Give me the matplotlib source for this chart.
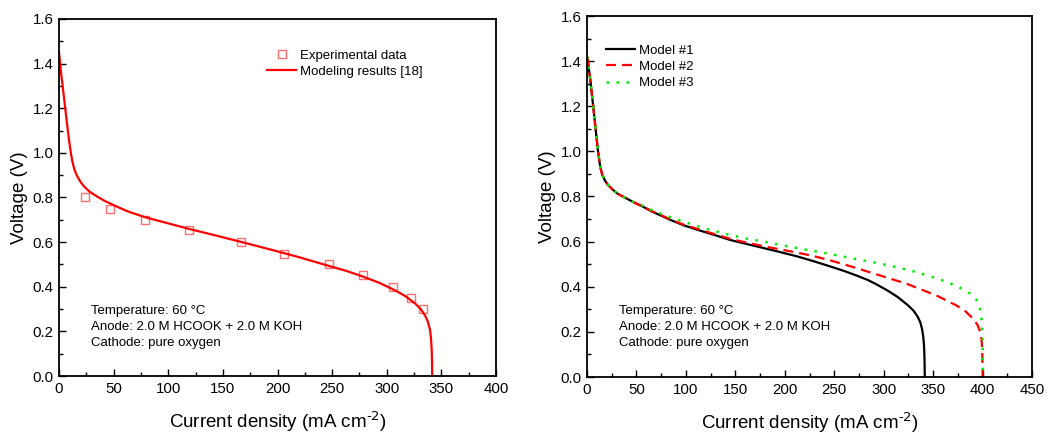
import matplotlib
matplotlib.use("Agg")
import matplotlib.pyplot as plt
from matplotlib.ticker import MultipleLocator, FormatStrFormatter

plt.rcParams['font.family'] = ['Liberation Sans', 'DejaVu Sans']
plt.rcParams['mathtext.default'] = 'regular'

# ---- Left panel data ----
exp_x = [24, 47, 79, 119, 167, 206, 247, 278, 306, 322, 333]
exp_y = [0.80, 0.75, 0.70, 0.655, 0.60, 0.548, 0.50, 0.453, 0.40, 0.35, 0.30]

mod_x = [0, 1, 2, 3.3, 5, 6.4, 8, 9.4, 11, 12.4, 14, 15.5, 17, 20, 23, 28, 35,
         42, 50, 58, 65, 80, 100, 120, 145, 169, 195, 208, 220, 248, 263, 278,
         293, 308, 317, 326, 331, 335, 337.5, 339.5, 340.5, 341.2, 341.5, 341.6]
mod_y = [1.45, 1.40, 1.355, 1.30, 1.23, 1.17, 1.105, 1.05, 0.995, 0.958, 0.928,
         0.908, 0.892, 0.868, 0.849, 0.826, 0.804, 0.784, 0.766, 0.748, 0.734,
         0.71, 0.684, 0.658, 0.628, 0.598, 0.565, 0.548, 0.532, 0.492, 0.471,
         0.446, 0.418, 0.383, 0.358, 0.325, 0.30, 0.272, 0.245, 0.21, 0.17, 0.11,
         0.05, 0.0]

# ---- Right panel data ----
m1_x = [0, 1, 2, 3.4, 5, 6, 8, 9.4, 11, 12.8, 14, 15.5, 17.9, 21, 26.3, 31,
        39.7, 47, 56.6, 65, 73.5, 85, 98, 112, 130, 145, 162, 179, 196, 213, 230,
        246, 260, 273, 284, 293, 304, 314, 324, 330, 334.3, 337, 338.7, 340,
        340.8, 341.3, 341.6]
m1_y = [1.42, 1.40, 1.36, 1.316, 1.25, 1.21, 1.13, 1.07, 1.005, 0.948, 0.92,
        0.896, 0.873, 0.852, 0.829, 0.812, 0.792, 0.775, 0.755, 0.735, 0.718,
        0.695, 0.672, 0.652, 0.628, 0.607, 0.589, 0.571, 0.553, 0.534, 0.512,
        0.49, 0.47, 0.449, 0.43, 0.41, 0.383, 0.355, 0.32, 0.295, 0.268, 0.243,
        0.215, 0.18, 0.14, 0.08, 0.0]

m2_x = [0, 1, 2, 3.4, 5, 6, 8, 9.4, 11, 12.8, 14, 15.5, 17.9, 21, 26.3, 31,
        39.7, 47, 56.6, 65, 73.5, 85, 98, 112, 130, 145, 162, 179, 196, 213, 230,
        246, 260, 273, 286, 306, 324, 339, 354, 366, 374, 383, 391, 395, 397,
        398.5, 399.3, 399.8, 400, 400.1]
m2_y = [1.42, 1.40, 1.36, 1.316, 1.25, 1.21, 1.13, 1.07, 1.005, 0.948, 0.92,
        0.896, 0.873, 0.852, 0.829, 0.812, 0.792, 0.775, 0.755, 0.736, 0.72,
        0.697, 0.675, 0.656, 0.632, 0.612, 0.595, 0.579, 0.565, 0.551, 0.535,
        0.517, 0.499, 0.482, 0.464, 0.437, 0.412, 0.386, 0.36, 0.334, 0.316,
        0.29, 0.256, 0.23, 0.208, 0.18, 0.149, 0.09, 0.046, 0.0]

m3_x = [0, 1, 2, 3.4, 5, 6, 8, 9.4, 11, 12.8, 14, 15.5, 17.9, 21, 26.3, 31,
        39.7, 47, 56.6, 65, 73.5, 85, 98, 112, 130, 145, 162, 182, 213, 245, 275,
        290, 306, 327, 346, 363, 376, 384, 390, 393, 395.5, 397, 398.5, 399.3,
        399.8, 400.1, 400.3, 400.4]
m3_y = [1.42, 1.40, 1.36, 1.316, 1.25, 1.21, 1.13, 1.07, 1.005, 0.948, 0.92,
        0.896, 0.873, 0.852, 0.829, 0.812, 0.792, 0.775, 0.759, 0.741, 0.726,
        0.707, 0.688, 0.668, 0.646, 0.629, 0.613, 0.597, 0.571, 0.546, 0.520,
        0.508, 0.494, 0.472, 0.448, 0.423, 0.398, 0.38, 0.362, 0.348, 0.33, 0.31,
        0.28, 0.24, 0.19, 0.12, 0.06, 0.0]

note = "Temperature: 60 °C\nAnode: 2.0 M HCOOK + 2.0 M KOH\nCathode: pure oxygen"

fig = plt.figure(figsize=(10.56, 4.36), dpi=100)
axL = fig.add_axes([59/1056, 1-376/436, (496-59)/1056, (376-19)/436])
axR = fig.add_axes([587/1056, 1-377/436, (1032-587)/1056, (377-16)/436])


def style(ax, xmax, xmajor):
    ax.set_xlim(0, xmax)
    ax.set_ylim(0, 1.6)
    ax.xaxis.set_major_locator(MultipleLocator(xmajor))
    ax.xaxis.set_minor_locator(MultipleLocator(xmajor / 2))
    ax.yaxis.set_major_locator(MultipleLocator(0.2))
    ax.yaxis.set_minor_locator(MultipleLocator(0.1))
    ax.yaxis.set_major_formatter(FormatStrFormatter('%.1f'))
    ax.tick_params(which='both', direction='in', top=False, right=False,
                   labelsize=10.8, width=1.0)
    ax.tick_params(which='major', length=5, pad=4)
    ax.tick_params(which='minor', length=3)
    for s in ax.spines.values():
        s.set_linewidth(1.3)
    ax.set_xlabel("Current density (mA cm$^{\\text{-2}}$)", fontsize=13.5,
                  labelpad=10)
    ax.set_ylabel("Voltage (V)", fontsize=13.5, labelpad=3)
    ax.text(0.073, 0.199, note, transform=ax.transAxes, fontsize=9.5,
            va='top', ha='left', linespacing=1.45)


style(axL, 400, 50)
style(axR, 450, 50)

axL.plot(exp_x, exp_y, linestyle='none', marker='s', markersize=5.5,
         markerfacecolor='none', markeredgecolor='#ff6e6e', markeredgewidth=1.0,
         label='Experimental data')
axL.plot(mod_x, mod_y, color='#ff0000', lw=1.6, label='Modeling results [18]')
axL.legend(loc='upper left', bbox_to_anchor=(0.476, 0.915), frameon=False,
           fontsize=9.5, borderpad=0, borderaxespad=0, handlelength=2.2,
           handletextpad=0.3, labelspacing=0.3)

axR.plot(m1_x, m1_y, color='black', lw=1.6, label='Model #1')
axR.plot(m2_x, m2_y, color='#ff0000', lw=1.6, linestyle=(0, (4.5, 2.7)),
         label='Model #2')
axR.plot(m3_x, m3_y, color='#00ee00', lw=1.8, linestyle=(0, (1, 3)),
         label='Model #3')
axR.legend(loc='upper left', bbox_to_anchor=(0.043, 0.921), frameon=False,
           fontsize=9.5, borderpad=0, borderaxespad=0, handlelength=2.2,
           handletextpad=0.3, labelspacing=0.3)

fig.savefig("out.png", dpi=100)
